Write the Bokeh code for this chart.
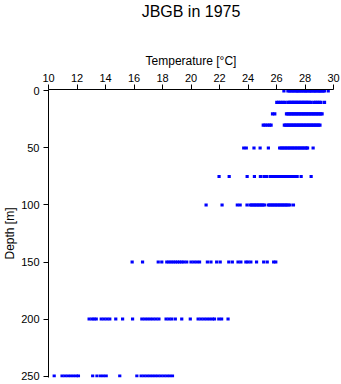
from bokeh.plotting import figure
from bokeh.models import Range1d, FixedTicker, Title
from bokeh.embed import file_html
from bokeh.resources import INLINE

# Depth levels [m]
depths = [0, 10, 20, 30, 50, 75, 100, 150, 200, 250]

t_0 = [26.52, 26.8, 26.9, 27.0, 27.1, 27.2, 27.3, 27.4, 27.48, 27.57, 27.66, 27.75,
       27.86, 27.94, 28.03, 28.12, 28.2, 28.31, 28.39, 28.47, 28.58, 28.66, 28.75,
       28.84, 28.93, 29.02, 29.1, 29.19, 29.28, 29.36, 29.63]
t_10 = [26.02, 26.15, 26.3, 26.45, 26.6, 26.8, 26.9, 27.0, 27.1, 27.2, 27.3, 27.4,
        27.5, 27.6, 27.7, 27.8, 27.9, 28.0, 28.1, 28.2, 28.3, 28.42, 28.62, 28.75,
        28.87, 29.0, 29.12, 29.37]
t_20 = [25.72, 25.88, 26.7, 26.8, 26.9, 27.0, 27.1, 27.2, 27.3, 27.4, 27.5, 27.6,
        27.7, 27.8, 27.9, 28.0, 28.1, 28.2, 28.3, 28.4, 28.5, 28.6, 28.7, 28.8,
        28.9, 29.0, 29.1, 29.2]
t_30 = [25.07, 25.2, 25.35, 25.5, 25.62, 26.55, 26.65, 26.75, 26.85, 26.95, 27.05,
        27.15, 27.25, 27.35, 27.45, 27.55, 27.65, 27.75, 27.85, 27.95, 28.05, 28.15,
        28.25, 28.35, 28.45, 28.55, 28.65, 28.75, 28.85, 28.95, 29.05]
t_50 = [23.7, 23.88, 24.42, 24.85, 25.43, 26.22, 26.32, 26.42, 26.52, 26.62, 26.72,
        26.82, 26.92, 27.02, 27.12, 27.22, 27.32, 27.42, 27.52, 27.62, 27.72, 27.82,
        27.92, 28.02, 28.12, 28.18, 28.57]
t_75 = [21.97, 22.68, 23.94, 24.45, 24.87, 25.12, 25.3, 25.55, 25.65, 25.75, 25.85,
        25.95, 26.05, 26.15, 26.25, 26.35, 26.45, 26.55, 26.65, 26.75, 26.85, 26.95,
        27.05, 27.15, 27.25, 27.35, 27.45, 27.73, 28.43]
t_100 = [21.06, 22.18, 23.25, 23.45, 23.93, 24.15, 24.25, 24.35, 24.45, 24.55, 24.65,
         24.75, 24.85, 24.95, 25.05, 25.15, 25.42, 25.52, 25.62, 25.72, 25.82, 25.92,
         26.02, 26.12, 26.22, 26.32, 26.42, 26.52, 26.62, 26.72, 26.82, 26.95, 27.19]
t_150 = [15.87, 16.6, 17.7, 17.95, 18.3, 18.45, 18.6, 18.75, 18.9, 19.05, 19.2, 19.35,
         19.5, 19.7, 20.0, 20.2, 20.4, 20.6, 21.15, 21.4, 21.8, 22.05, 22.65, 22.9,
         23.3, 23.5, 23.85, 24.0, 24.2, 24.6, 25.1, 25.35, 25.8, 25.95]
t_200 = [12.85, 13.05, 13.2, 13.35, 13.7, 13.9, 14.1, 14.3, 14.72, 15.2, 15.9, 16.55,
         16.75, 16.95, 17.15, 17.35, 17.55, 17.75, 18.25, 18.45, 18.65, 18.9, 19.35,
         19.95, 20.5, 20.7, 20.9, 21.1, 21.3, 21.5, 21.65, 21.95, 22.15, 22.6]
t_250 = [10.4, 10.95, 11.15, 11.35, 11.55, 11.75, 11.95, 12.1, 13.1, 13.4, 13.65,
         13.85, 14.05, 15.0, 16.2, 16.5, 16.7, 16.9, 17.1, 17.3, 17.5, 17.7, 17.9,
         18.1, 18.3, 18.5, 18.7]

x_ticks = [10, 12, 14, 16, 18, 20, 22, 24, 26, 28, 30]
y_ticks = [0, 50, 100, 150, 200, 250]
title_text = "JBGB in 1975"

temps = [t_0, t_10, t_20, t_30, t_50, t_75, t_100, t_150, t_200, t_250]
xs, ys = [], []
for d, ts in zip(depths, temps):
    xs.extend(ts)
    ys.extend([d] * len(ts))

FONT = "Liberation Sans"

p = figure(width=341, height=384, output_backend="svg", toolbar_location=None,
           x_axis_location="above",
           x_range=Range1d(10, 30), y_range=Range1d(251.3, -1.3),
           min_border_left=48, min_border_right=8, min_border_top=89,
           min_border_bottom=7)

p.outline_line_color = None
p.xgrid.visible = False
p.ygrid.visible = False
p.background_fill_color = "white"
p.border_fill_color = "white"

p.scatter(xs, ys, marker="square", size=3.2, fill_color="#0000ff", line_color=None)

for ax, ticks in ((p.xaxis[0], x_ticks), (p.yaxis[0], y_ticks)):
    ax.ticker = FixedTicker(ticks=ticks)
    ax.minor_tick_line_color = None
    ax.major_tick_in = 0
    ax.major_tick_out = 5
    ax.axis_line_color = "black"
    ax.major_tick_line_color = "black"
    ax.major_label_text_font = FONT
    ax.major_label_text_font_size = "11px"
    ax.major_label_text_color = "black"
    ax.axis_label_text_font = FONT
    ax.axis_label_text_font_size = "12px"
    ax.axis_label_text_font_style = "normal"
    ax.axis_label_text_color = "black"

p.xaxis.axis_label = "Temperature [°C]"
p.yaxis.axis_label = "Depth [m]"
p.xaxis.major_label_standoff = 3
p.xaxis.axis_label_standoff = 3
p.yaxis.major_label_standoff = 4
p.yaxis.axis_label_standoff = 1

# empty spacer between the top axis and the title, then the title itself
p.add_layout(Title(text=" ", text_font_size="1px", standoff=25.4), "above")
p.add_layout(Title(text=title_text, align="center", vertical_align="top",
                   text_font=FONT, text_font_size="16px", text_font_style="normal",
                   text_color="black", standoff=0), "above")

open("out.html", "w").write(file_html(p, INLINE))
